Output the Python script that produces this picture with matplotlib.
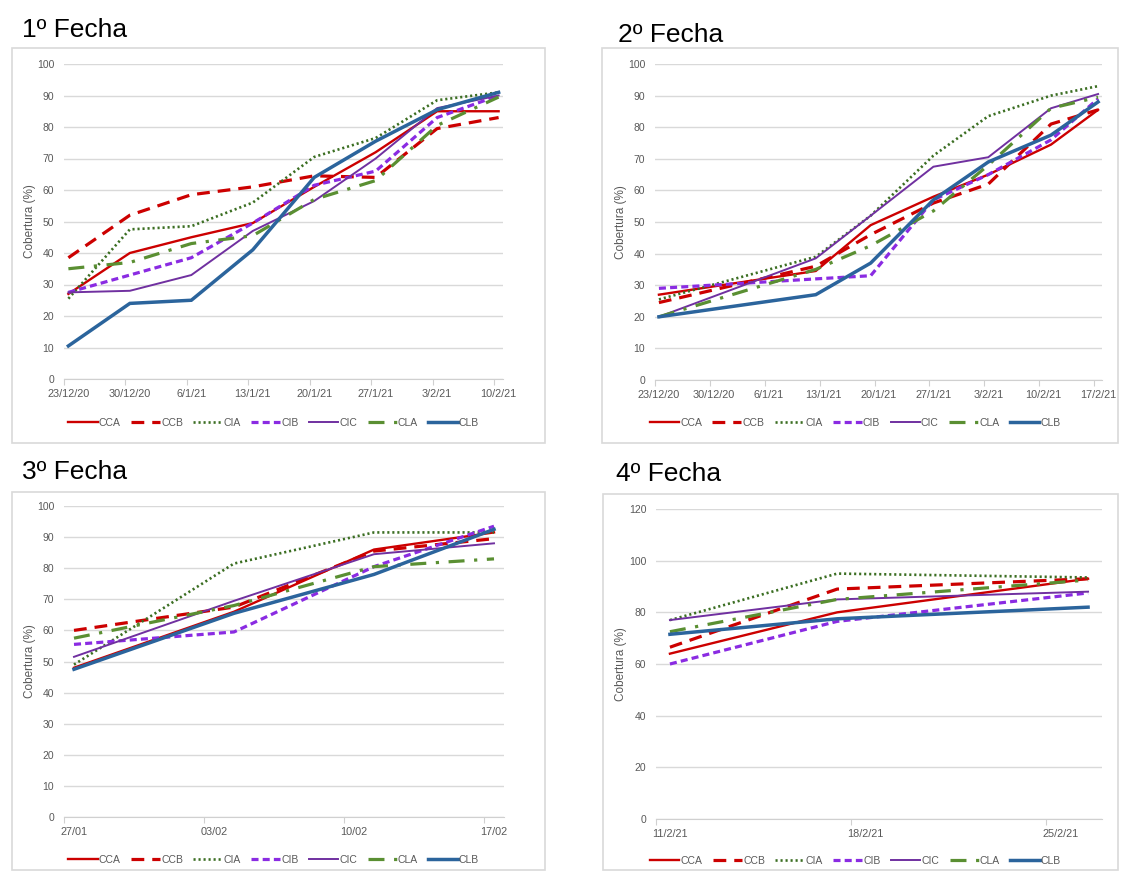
import matplotlib
matplotlib.use("Agg")
import matplotlib.pyplot as plt
import matplotlib.dates as mdates
from matplotlib.patches import Rectangle
from matplotlib.ticker import FuncFormatter, NullFormatter
import pandas as pd

plt.rcParams['font.family'] = ['Liberation Sans Narrow', 'Liberation Sans', 'DejaVu Sans']

# series names
series = ['CCA', 'CCB', 'CIA', 'CIB', 'CIC', 'CLA', 'CLB']

# 1º Fecha
f1_dates = ['2020-12-23', '2020-12-30', '2021-01-06', '2021-01-13',
            '2021-01-20', '2021-01-27', '2021-02-03', '2021-02-10']
f1_CCA = [27, 40, 45, 49.5, 61, 72, 85, 85]
f1_CCB = [38.5, 52, 58.5, 61, 64.5, 64, 79.5, 83]
f1_CIA = [25.5, 47.5, 48.5, 56, 70.5, 76.5, 88.5, 91]
f1_CIB = [27.5, 33, 38.5, 49.5, 61.5, 66, 83, 90]
f1_CIC = [27.5, 28, 33, 47, 56.5, 70, 86, 90]
f1_CLA = [35, 37, 43, 45.5, 57, 63, 80.5, 89.5]
f1_CLB = [10.5, 24, 25, 41, 64, 75.5, 85.5, 91]

# 2º Fecha
f2_dates = ['2020-12-23', '2021-01-12', '2021-01-19', '2021-01-27',
            '2021-02-03', '2021-02-11', '2021-02-17']
f2_CCA = [27, 34.5, 49, 58, 65, 74.5, 85.5]
f2_CCB = [24.5, 36, 46, 56, 62, 81, 85.5]
f2_CIA = [25.5, 39, 52, 71, 83.5, 90, 93]
f2_CIB = [29, 32, 33, 57, 65, 76, 89]
f2_CIC = [20, 38.5, 52, 67.5, 70.5, 86, 90.5]
f2_CLA = [20, 35, 42.5, 53.5, 68, 86, 89.5]
f2_CLB = [20, 27, 37, 57, 69, 77.5, 88]

# 3º Fecha
f3_dates = ['2021-01-27', '2021-02-04', '2021-02-11', '2021-02-17']
f3_CCA = [48, 66, 86, 91.5]
f3_CCB = [60, 67.5, 85.5, 89.5]
f3_CIA = [49, 81.5, 91.5, 91.5]
f3_CIB = [55.5, 59.5, 80.5, 93.5]
f3_CIC = [51.5, 69.5, 84.5, 88]
f3_CLA = [57.5, 68, 80.5, 83]
f3_CLB = [47.5, 65.5, 78, 92.5]

# 4º Fecha
f4_dates = ['2021-02-11', '2021-02-17', '2021-02-26']
f4_CCA = [64, 80, 93]
f4_CCB = [66.5, 89, 93]
f4_CIA = [77, 95, 93.5]
f4_CIB = [60, 76.5, 87.5]
f4_CIC = [77, 85, 88]
f4_CLA = [72.5, 85, 92.5]
f4_CLB = [71.5, 77.5, 82]

# estilos de linea
styles = {
    'CCA': dict(color='#cc0000', lw=1.7),
    'CCB': dict(color='#cc0000', lw=2.3, dashes=(4, 2.5)),
    'CIA': dict(color='#3b6e22', lw=1.9, dashes=(0.8, 1.1)),
    'CIB': dict(color='#8a2be2', lw=2.3, dashes=(2.2, 1.3)),
    'CIC': dict(color='#7030a0', lw=1.4),
    'CLA': dict(color='#5a8f32', lw=2.3, dashes=(5, 3, 1, 3)),
    'CLB': dict(color='#2b649c', lw=2.5),
}

W, H = 1122, 874
fig = plt.figure(figsize=(W / 100, H / 100), dpi=100)
fig.patch.set_facecolor('white')


def fx(px):
    return px / W


def fy(py):
    return 1 - py / H


def fmt_dmy(x, pos):
    d = mdates.num2date(x)
    return f"{d.day}/{d.month}/{d.strftime('%y')}"


def fmt_dm(x, pos):
    d = mdates.num2date(x)
    return d.strftime('%d/%m')


panels = [
    # title, title pos, box, axes box, dates, data, xlim, ymax, ystep, tick fmt, legend y
    ('1º Fecha', (22, 37), (12, 48, 545, 443), (64, 64, 503, 379),
     f1_dates, [f1_CCA, f1_CCB, f1_CIA, f1_CIB, f1_CIC, f1_CLA, f1_CLB],
     ('2020-12-23', '2021-02-11'), 100, 10, fmt_dmy, 423),
    ('2º Fecha', (618, 42), (602, 48, 1118, 443), (655, 64, 1102, 380),
     f2_dates, [f2_CCA, f2_CCB, f2_CIA, f2_CIB, f2_CIC, f2_CLA, f2_CLB],
     ('2020-12-23', '2021-02-18'), 100, 10, fmt_dmy, 423),
    ('3º Fecha', (22, 479), (12, 492, 545, 870), (64, 506, 504, 817),
     f3_dates, [f3_CCA, f3_CCB, f3_CIA, f3_CIB, f3_CIC, f3_CLA, f3_CLB],
     ('2021-01-27', '2021-02-18'), 100, 10, fmt_dm, 860),
    ('4º Fecha', (616, 481), (603, 494, 1118, 870), (656, 509, 1102, 819),
     f4_dates, [f4_CCA, f4_CCB, f4_CIA, f4_CIB, f4_CIC, f4_CLA, f4_CLB],
     ('2021-02-11', '2021-02-27'), 120, 20, fmt_dmy, 861),
]

half_day = pd.Timedelta(hours=12)

for title, tpos, box, abox, dates, data, xlim, ymax, ystep, fmt, ly in panels:
    # marco del grafico
    fig.patches.append(Rectangle((fx(box[0]), fy(box[3])), fx(box[2] - box[0]),
                                 (box[3] - box[1]) / H, transform=fig.transFigure,
                                 fill=False, edgecolor='#d9d9d9', lw=1.2))
    fig.text(fx(tpos[0]), fy(tpos[1]), title, fontsize=19, color='black',
             family=['Liberation Sans', 'DejaVu Sans'], va='baseline', ha='left')

    ax = fig.add_axes([fx(abox[0]), fy(abox[3]), fx(abox[2] - abox[0]), (abox[3] - abox[1]) / H])
    # puntos en el centro del dia (eje de fechas de Excel)
    x = pd.to_datetime(dates) + half_day
    handles = []
    for name, vals in zip(series, data):
        ln, = ax.plot(x, vals, label=name, solid_joinstyle='miter', **styles[name])
        handles.append(ln)

    ax.set_xlim(pd.Timestamp(xlim[0]), pd.Timestamp(xlim[1]))
    ax.set_ylim(0, ymax)
    ax.set_yticks(range(0, ymax + 1, ystep))
    ticks = pd.date_range(xlim[0], xlim[1], freq='7D')
    ax.set_xticks(ticks)
    ax.xaxis.set_major_formatter(NullFormatter())
    ax.set_xticks(ticks + half_day, minor=True)
    ax.xaxis.set_minor_formatter(FuncFormatter(fmt))
    ax.grid(axis='y', color='#d9d9d9', lw=1.0)
    ax.set_axisbelow(True)
    for s in ['top', 'right', 'left']:
        ax.spines[s].set_visible(False)
    ax.spines['bottom'].set_color('#d0d0d0')
    ax.tick_params(axis='y', length=0, pad=7, labelsize=7.5, labelcolor='#595959')
    ax.tick_params(axis='x', which='major', length=4, color='#d0d0d0')
    ax.tick_params(axis='x', which='minor', length=0, pad=7, labelsize=7.8, labelcolor='#595959')
    ax.set_ylabel('Cobertura (%)', fontsize=8.5, color='#595959', labelpad=1)
    ax.patch.set_alpha(0)

    cx = (box[0] + box[2]) / 2
    fig.legend(handles=handles, loc='center', bbox_to_anchor=(fx(cx - 5), fy(ly)),
               ncol=7, frameon=False, fontsize=7.5, labelcolor='#595959',
               handlelength=2.8, handletextpad=0.1, columnspacing=1.0)

fig.savefig('out.png', dpi=100, facecolor='white')
